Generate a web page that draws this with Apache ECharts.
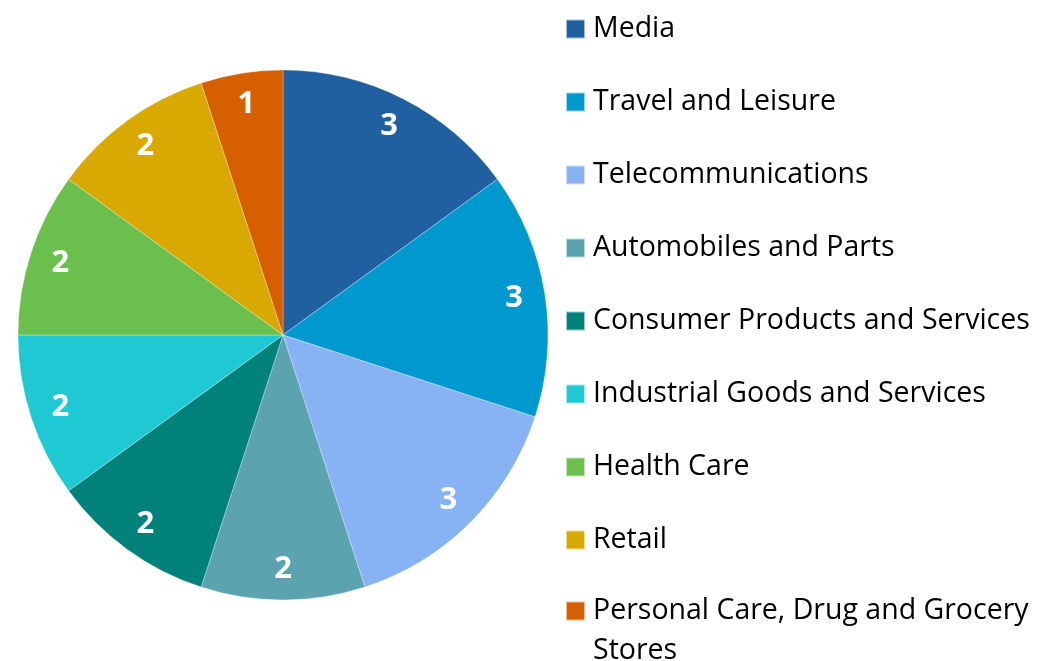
<!DOCTYPE html>
<html>
<head>
<meta charset="utf-8">
<script src="https://cdn.jsdelivr.net/npm/echarts@6/dist/echarts.min.js"></script>
<style>
  html, body { margin: 0; padding: 0; background: #fff; }
  #chart { width: 1038px; height: 661px; }
</style>
</head>
<body>
<div id="chart"></div>
<script>
var sectors = ['Media', 'Travel and Leisure', 'Telecommunications', 'Automobiles and Parts',
  'Consumer Products and Services', 'Industrial Goods and Services', 'Health Care', 'Retail',
  'Personal Care, Drug and Grocery Stores']
var counts = [3, 3, 3, 2, 2, 2, 2, 2, 1]
var colors = ['#2060a0', '#0099cf', '#87b2f3', '#5ba3af', '#00827a', '#1fc9d3', '#6bbf4c', '#d8a900', '#d65f00']

var font = '"Open Sans", "Noto Sans", sans-serif'
var chart = echarts.init(document.getElementById('chart'))

var pieData = sectors.map(function (name, i) {
  return { name: name, value: counts[i], itemStyle: { color: colors[i] } }
})
// same values, transparent ring, only used to place the labels further out
var labelData = sectors.map(function (name, i) {
  return { name: name, value: counts[i], itemStyle: { color: 'rgba(0,0,0,0)' } }
})

var legendText = {
  fontFamily: font,
  fontSize: 28.5,
  color: '#000',
  lineHeight: 40,
  padding: [0, 0, 0, 3]
}
var legendBase = {
  orient: 'vertical',
  left: 565,
  height: 900,
  padding: 0,
  icon: 'rect',
  itemWidth: 19,
  itemHeight: 19,
  itemGap: 33,
  selectedMode: false,
  textStyle: legendText
}
var last = sectors.length - 1

var option = {
  animation: false,
  legend: [
    Object.assign({}, legendBase, {
      top: 9,
      data: sectors.slice(0, last).map(function (name, i) {
        return { name: name, itemStyle: { color: colors[i] } }
      })
    }),
    // long name wraps, first line kept level with the square
    Object.assign({}, legendBase, {
      top: 551,
      data: [{ name: sectors[last], itemStyle: { color: colors[last] } }],
      formatter: function () {
        return '\nPersonal Care, Drug and Grocery\nStores'
      }
    })
  ],
  series: [
    {
      type: 'pie',
      center: [283, 335],
      radius: [0, 265],
      startAngle: 90,
      clockwise: true,
      silent: true,
      label: { show: false },
      labelLine: { show: false },
      itemStyle: { borderColor: 'rgba(255,255,255,0.6)', borderWidth: 0.5 },
      data: pieData
    },
    {
      type: 'pie',
      center: [283, 335],
      radius: [197, 265],
      startAngle: 90,
      clockwise: true,
      silent: true,
      legendHoverLink: false,
      label: {
        show: true,
        position: 'inside',
        formatter: '{c}',
        color: '#fff',
        fontFamily: font,
        fontWeight: 'bold',
        fontSize: 31
      },
      labelLine: { show: false },
      data: labelData
    }
  ]
}

option && chart.setOption(option)
</script>
</body>
</html>
